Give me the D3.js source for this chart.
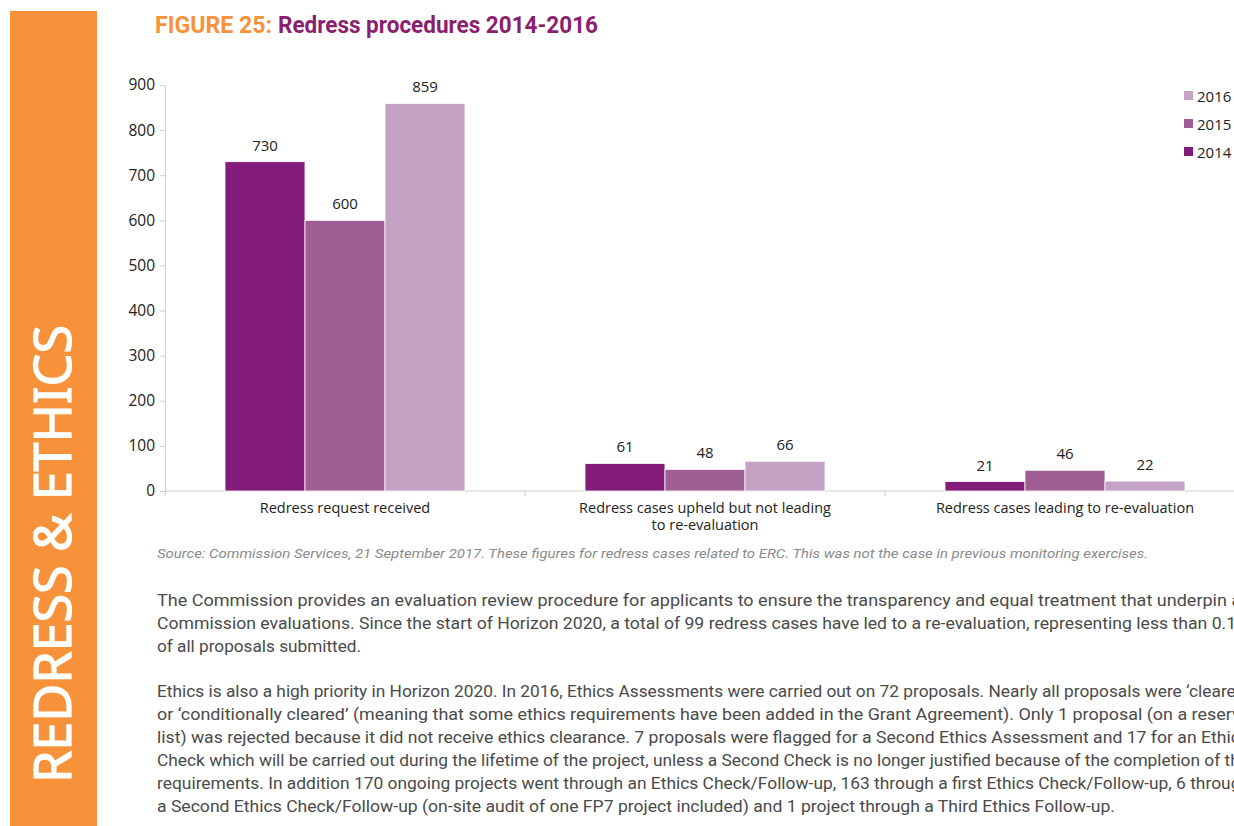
<!DOCTYPE html>
<html>
<head>
<meta charset="utf-8">
<script src="https://cdn.jsdelivr.net/npm/d3@7"></script>
<style>
  html, body { margin: 0; padding: 0; background: #fff; }
  svg { display: block; }
</style>
</head>
<body>
<svg id="page" width="1234" height="826"></svg>
<script>
// chart data
const categories = [
    'Redress request received',
    'Redress cases upheld but not leading to re-evaluation',
    'Redress cases leading to re-evaluation'
];
const years = ['2014', '2015', '2016'];
const values2014 = [730, 61, 21];
const values2015 = [600, 48, 46];
const values2016 = [859, 66, 22];
const yTicks = [0, 100, 200, 300, 400, 500, 600, 700, 800, 900];

const sideLabel = 'REDRESS & ETHICS';
const figureNo = 'FIGURE 25:';
const figureTitle = 'Redress procedures 2014-2016';
const sourceNote = 'Source: Commission Services, 21 September 2017. These figures for redress cases related to ERC. This was not the case in previous monitoring exercises.';
const paragraph1 = [
    'The Commission provides an evaluation review procedure for applicants to ensure the transparency and equal treatment that underpin all',
    'Commission evaluations. Since the start of Horizon 2020, a total of 99 redress cases have led to a re-evaluation, representing less than 0.1%',
    'of all proposals submitted.'
];
const paragraph2 = [
    'Ethics is also a high priority in Horizon 2020. In 2016, Ethics Assessments were carried out on 72 proposals. Nearly all proposals were \u2018cleared\u2019',
    'or \u2018conditionally cleared\u2019 (meaning that some ethics requirements have been added in the Grant Agreement). Only 1 proposal (on a reserve',
    'list) was rejected because it did not receive ethics clearance. 7 proposals were flagged for a Second Ethics Assessment and 17 for an Ethics',
    'Check which will be carried out during the lifetime of the project, unless a Second Check is no longer justified because of the completion of the',
    'requirements. In addition 170 ongoing projects went through an Ethics Check/Follow-up, 163 through a first Ethics Check/Follow-up, 6 through',
    'a Second Ethics Check/Follow-up (on-site audit of one FP7 project included) and 1 project through a Third Ethics Follow-up.'
];
// approximate rendered widths of each paragraph line in the page
const paragraph1Widths = [1093, 1092, 204];
const paragraph2Widths = [1092, 1093, 1092, 1092, 1093, 958];

const COLORS = {2014: '#831b7b', 2015: '#9e5e93', 2016: '#c4a2c4'};
const ORANGE = '#f7923a';
const PURPLE = '#8b1f6f';
const TEXT_FONT = '"Liberation Sans Narrow", "Roboto", sans-serif';
const CHART_FONT = '"Open Sans", "DejaVu Sans", sans-serif';

const series = years.map((yr, i) => ({
    year: yr,
    values: [values2014, values2015, values2016][i]
}));

const svg = d3.select('#page');

// orange side band
svg.append('rect')
    .attr('x', 10).attr('y', 11)
    .attr('width', 87).attr('height', 815)
    .attr('fill', ORANGE);

svg.append('text')
    .attr('transform', 'translate(71,783) rotate(-90)')
    .attr('font-family', '"Noto Sans", "DejaVu Sans", sans-serif')
    .attr('font-weight', 400)
    .attr('font-size', 51)
    .attr('fill', '#fff')
    .attr('stroke', '#fff')
    .attr('stroke-width', 1.2)
    .attr('textLength', 458)
    .attr('lengthAdjust', 'spacingAndGlyphs')
    .text(sideLabel);

// title
svg.append('text')
    .attr('x', 155).attr('y', 33)
    .attr('font-family', TEXT_FONT)
    .attr('font-weight', 'bold')
    .attr('font-size', 23)
    .attr('fill', ORANGE)
    .attr('textLength', 117)
    .attr('lengthAdjust', 'spacingAndGlyphs')
    .text(figureNo);
svg.append('text')
    .attr('x', 278).attr('y', 33)
    .attr('font-family', TEXT_FONT)
    .attr('font-weight', 'bold')
    .attr('font-size', 23)
    .attr('fill', PURPLE)
    .attr('textLength', 320)
    .attr('lengthAdjust', 'spacingAndGlyphs')
    .text(figureTitle);

// chart scales
const x0 = d3.scaleBand()
    .domain(categories)
    .range([165, 1245])
    .paddingInner(0);
const x1 = d3.scaleBand()
    .domain(years)
    .range([0, x0.bandwidth()])
    .paddingOuter(0.75);
const y = d3.scaleLinear()
    .domain([0, 900])
    .range([491, 85]);

const chart = svg.append('g').attr('font-family', CHART_FONT);

// y axis
const yAxis = chart.append('g')
    .attr('transform', 'translate(165,0)')
    .call(d3.axisLeft(y).tickValues(yTicks).tickSize(5).tickPadding(5));
yAxis.select('.domain').attr('stroke', '#cfcfcf');
yAxis.selectAll('.tick line').attr('stroke', '#cfcfcf');
yAxis.selectAll('.tick text')
    .attr('font-size', 15.5)
    .attr('font-family', CHART_FONT)
    .attr('fill', '#222');

// x axis: baseline with ticks at category boundaries
const xAxis = chart.append('g')
    .attr('transform', 'translate(0,491)');
xAxis.append('line')
    .attr('x1', 165).attr('x2', 1245)
    .attr('stroke', '#cfcfcf');
xAxis.selectAll('.bound')
    .data(categories)
    .join('line')
    .attr('class', 'bound')
    .attr('x1', d => x0(d)).attr('x2', d => x0(d))
    .attr('y1', 0).attr('y2', 5)
    .attr('stroke', '#cfcfcf');

const catLabels = xAxis.selectAll('.cat')
    .data(categories)
    .join('text')
    .attr('class', 'cat')
    .attr('x', d => x0(d) + x0.bandwidth() / 2)
    .attr('y', 22)
    .attr('text-anchor', 'middle')
    .attr('font-size', 14.5)
    .attr('fill', '#222')
    .text(d => d);

// wrap long category labels
catLabels.each(function(d) {
    const el = d3.select(this);
    const cx = +el.attr('x');
    const words = d.split(' ');
    el.text(null);
    let line = [];
    let tspan = el.append('tspan').attr('x', cx).attr('dy', 0);
    words.forEach(w => {
        line.push(w);
        tspan.text(line.join(' '));
        if (tspan.node().getComputedTextLength() > 264 && line.length > 1) {
            line.pop();
            tspan.text(line.join(' '));
            line = [w];
            tspan = el.append('tspan').attr('x', cx).attr('dy', 17).text(w);
        }
    });
});

// bars
const groups = chart.selectAll('.serie')
    .data(series)
    .join('g')
    .attr('class', 'serie')
    .attr('fill', d => COLORS[d.year]);

groups.selectAll('rect')
    .data(d => d.values.map((v, i) => ({year: d.year, cat: categories[i], value: v})))
    .join('rect')
    .attr('x', d => x0(d.cat) + x1(d.year))
    .attr('y', d => y(d.value))
    .attr('width', x1.bandwidth())
    .attr('height', d => y(0) - y(d.value))
    .attr('stroke', '#fff')
    .attr('stroke-width', 0.8);

groups.selectAll('.val')
    .data(d => d.values.map((v, i) => ({year: d.year, cat: categories[i], value: v})))
    .join('text')
    .attr('class', 'val')
    .attr('x', d => x0(d.cat) + x1(d.year) + x1.bandwidth() / 2)
    .attr('y', d => y(d.value) - 11)
    .attr('text-anchor', 'middle')
    .attr('font-size', 15)
    .attr('fill', '#222')
    .text(d => d.value);

// legend
const legend = chart.selectAll('.legend')
    .data(years.slice().reverse())
    .join('g')
    .attr('class', 'legend')
    .attr('transform', (d, i) => `translate(1184,${96 + i * 28})`);
legend.append('rect')
    .attr('x', 0).attr('y', -5)
    .attr('width', 9).attr('height', 9)
    .attr('fill', d => COLORS[d]);
legend.append('text')
    .attr('x', 13).attr('y', 5.5)
    .attr('font-size', 15)
    .attr('fill', '#222')
    .text(d => d);

// source note
svg.append('text')
    .attr('x', 157).attr('y', 558)
    .attr('font-family', TEXT_FONT)
    .attr('font-style', 'italic')
    .attr('font-size', 13.5)
    .attr('fill', '#8a8a8a')
    .attr('textLength', 991)
    .attr('lengthAdjust', 'spacingAndGlyphs')
    .text(sourceNote);

// body text
function drawParagraph(lines, widths, top) {
    svg.append('g')
        .selectAll('text')
        .data(lines)
        .join('text')
        .attr('x', 157)
        .attr('y', (d, i) => top + i * 23)
        .attr('font-family', TEXT_FONT)
        .attr('font-size', 17)
        .attr('fill', '#4a4a4a')
        .attr('textLength', (d, i) => widths[i])
        .attr('lengthAdjust', 'spacingAndGlyphs')
        .text(d => d);
}
drawParagraph(paragraph1, paragraph1Widths, 606);
drawParagraph(paragraph2, paragraph2Widths, 697);
</script>
</body>
</html>
